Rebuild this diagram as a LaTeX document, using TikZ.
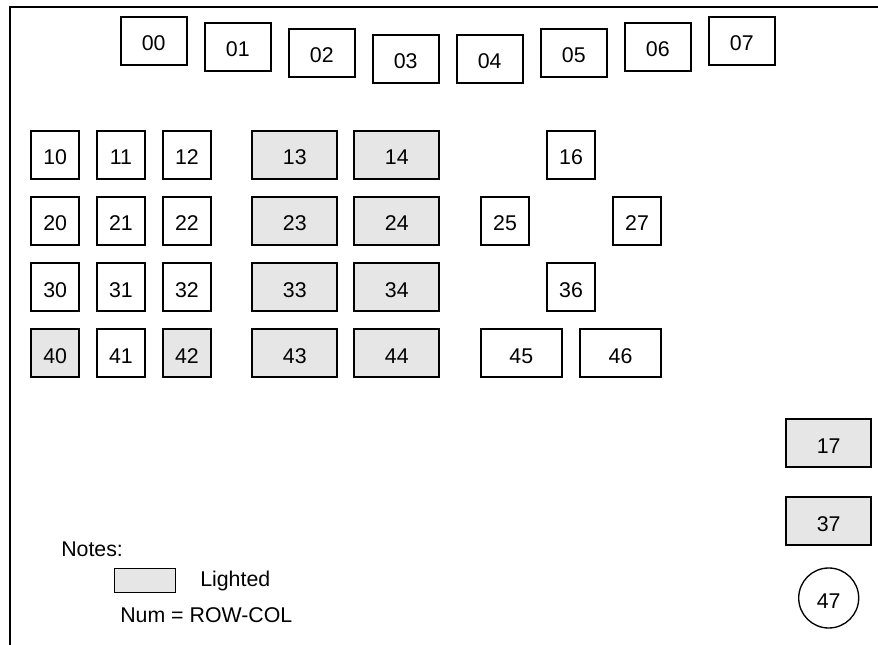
\documentclass[tikz,border=0pt]{standalone}
\usepackage{fontspec}
\setmainfont{Liberation Sans}
\usepackage{xcolor}
\usepackage{tikz}
\definecolor{litgray}{RGB}{230,230,230}
\tikzset{
  sq/.style={draw,line width=1.3pt,inner sep=0pt,minimum width=36pt,minimum height=36pt,text height=15pt,text depth=0pt,font=\fontsize{16}{19}\selectfont},
  tp/.style={sq,minimum width=49.5pt},
  wd/.style={sq,minimum width=63.75pt},
  md/.style={sq,minimum width=61pt},
  lit/.style={fill=litgray},
  note/.style={anchor=west,inner sep=0pt,font=\fontsize{16}{19}\selectfont},
  frm/.style={line width=1.3pt}
}
\newcommand{\lamp}[4]{\node[#1] (n#4) at (#2,#3) {#4};}

\begin{document}
\begin{tikzpicture}[x=0.75pt,y=-0.75pt]
\useasboundingbox (0,0) rectangle (878,645);
\draw[frm] (10,645) -- (10,7) -- (878,7);
% top row
\lamp{tp}{153.7}{40.7}{00} \lamp{tp}{237.8}{46.8}{01} \lamp{tp}{321.8}{52.8}{02} \lamp{tp}{405.7}{58.8}{03}
\lamp{tp}{489.7}{58.8}{04} \lamp{tp}{573.8}{52.8}{05} \lamp{tp}{657.8}{46.8}{06} \lamp{tp}{741.8}{40.7}{07}
% grid
\lamp{sq}{55.2}{155}{10} \lamp{sq}{121}{155}{11} \lamp{sq}{187}{155}{12}
\lamp{wd,lit}{294.8}{155}{13} \lamp{wd,lit}{396.8}{155}{14} \lamp{sq}{571}{155}{16}
\lamp{sq}{55.2}{221}{20} \lamp{sq}{121}{221}{21} \lamp{sq}{187}{221}{22}
\lamp{wd,lit}{294.8}{221}{23} \lamp{wd,lit}{396.8}{221}{24} \lamp{sq}{505}{221}{25} \lamp{sq}{637}{221}{27}
\lamp{sq}{55.2}{287}{30} \lamp{sq}{121}{287}{31} \lamp{sq}{187}{287}{32}
\lamp{wd,lit}{294.8}{287}{33} \lamp{wd,lit}{396.8}{287}{34} \lamp{sq}{571}{287}{36}
\lamp{sq,lit}{55.2}{353}{40} \lamp{sq}{121}{353}{41} \lamp{sq,lit}{187}{353}{42}
\lamp{wd,lit}{294.8}{353}{43} \lamp{wd,lit}{396.8}{353}{44} \lamp{md}{521.3}{353}{45} \lamp{md}{620.5}{353}{46}
% right side
\lamp{wd,lit}{828.7}{443}{17} \lamp{wd,lit}{828.7}{521}{37}
\node[sq,circle,line width=1pt,minimum size=45pt] (n47) at (828.7,598) {47};
% notes
\node[note] (notes) at (61,549.5) {Notes:};
\node[draw,lit,line width=1pt,minimum width=45.75pt,minimum height=18pt,inner sep=0pt] (key) at (145,580.7) {};
\node[note] (keytxt) at (200,580.5) {Lighted};
\node[note] (numtxt) at (120,615.5) {Num = ROW-COL};
\end{tikzpicture}
\end{document}
